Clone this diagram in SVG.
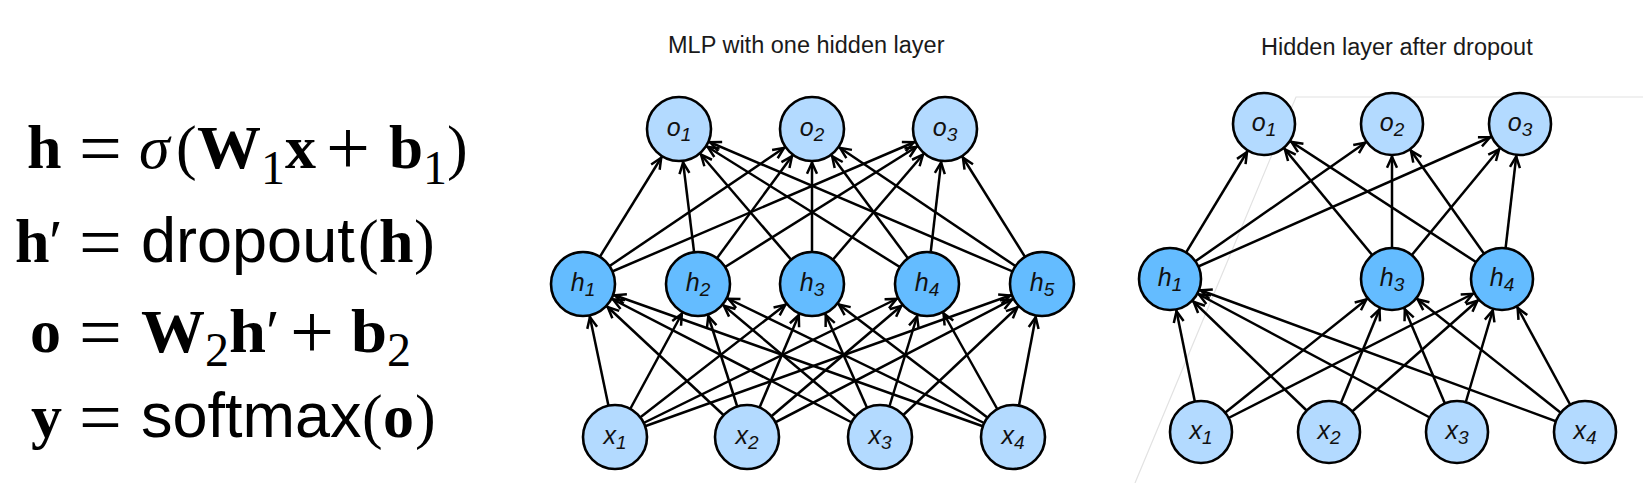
<svg xmlns="http://www.w3.org/2000/svg" width="1643" height="483" viewBox="0 0 1643 483">
<defs>
<style>
.eq text{font-family:"Liberation Sans",Arial,sans-serif;font-size:62px;fill:#000}
.eq .s{font-family:"Liberation Serif","Times New Roman",serif}
.eq .b{font-family:"Liberation Serif","Times New Roman",serif;font-weight:bold}
.eq .i{font-family:"Liberation Serif","Times New Roman",serif;font-style:italic}
.eq .sub{font-family:"Liberation Serif","Times New Roman",serif;font-size:48px}
.eq .op{font-family:"Liberation Serif","Times New Roman",serif;font-size:76px}
.eq .pl{font-family:"Liberation Serif","Times New Roman",serif;font-size:78px}
.eq .sans{font-size:63px}
.title{font-family:"Liberation Sans",Arial,sans-serif;font-size:23.5px;fill:#1a1a1a}
.e line{stroke:#000;stroke-width:2.5;fill:none}
#edgesL line{marker-end:url(#aL)}
#edgesR line{marker-end:url(#aR)}
.n circle{stroke:#000;stroke-width:2.6}
.lt circle{fill:#b3daff}
.md circle{fill:#64bcff}
.n text{font-family:"Liberation Sans",Arial,sans-serif;font-style:italic;font-size:25px;text-anchor:middle;fill:#111}
.n tspan{font-size:19px}
.guide{fill:none;stroke:#e2e2e2;stroke-width:1.2}
</style>
<marker id="aL" markerUnits="userSpaceOnUse" orient="auto" refX="33.8" refY="0" markerWidth="1" markerHeight="1" overflow="visible">
<path d="M-11,-5 L0,0 L-11,5" fill="none" stroke="#000" stroke-width="2.5"/>
</marker>
<marker id="aR" markerUnits="userSpaceOnUse" orient="auto" refX="32.8" refY="0" markerWidth="1" markerHeight="1" overflow="visible">
<path d="M-11,-5 L0,0 L-11,5" fill="none" stroke="#000" stroke-width="2.5"/>
</marker>
</defs>
<rect width="1643" height="483" fill="#fff"/>

<!-- equations -->
<g id="equations" class="eq">
<g id="eq1">
<text class="b" x="27" y="168">h</text>
<text class="op" x="79" y="174">=</text>
<text class="i" x="139" y="168">σ</text>
<text class="s" x="176" y="168">(</text>
<text class="b" x="197" y="168" textLength="64" lengthAdjust="spacingAndGlyphs">W</text>
<text class="sub" x="261" y="184">1</text>
<text class="b" x="285" y="168">x</text>
<text class="pl" x="326" y="174">+</text>
<text class="b" x="389" y="168" textLength="34" lengthAdjust="spacingAndGlyphs">b</text>
<text class="sub" x="423" y="184">1</text>
<text class="s" x="447" y="168">)</text>
</g>
<g id="eq2">
<text class="b" x="15" y="262">h</text>
<text class="s" x="49" y="262">′</text>
<text class="op" x="79" y="268">=</text>
<text class="sans" x="141" y="262">dropout</text>
<text class="s" x="358" y="262">(</text>
<text class="b" x="379" y="262">h</text>
<text class="s" x="414" y="262">)</text>
</g>
<g id="eq3">
<text class="b" x="30" y="352">o</text>
<text class="op" x="79" y="358">=</text>
<text class="b" x="141" y="352" textLength="64" lengthAdjust="spacingAndGlyphs">W</text>
<text class="sub" x="205" y="366">2</text>
<text class="b" x="229" y="352" textLength="37" lengthAdjust="spacingAndGlyphs">h</text>
<text class="s" x="266" y="352">′</text>
<text class="pl" x="290" y="358">+</text>
<text class="b" x="351" y="352" textLength="36" lengthAdjust="spacingAndGlyphs">b</text>
<text class="sub" x="387" y="366">2</text>
</g>
<g id="eq4">
<text class="b" x="31" y="437">y</text>
<text class="op" x="79" y="443">=</text>
<text class="sans" x="141" y="437">softmax</text>
<text class="s" x="362" y="437">(</text>
<text class="b" x="383" y="437">o</text>
<text class="s" x="415" y="437">)</text>
</g>
</g>

<!-- titles -->
<text class="title" x="668" y="53">MLP with one hidden layer</text>
<text class="title" x="1261" y="55">Hidden layer after dropout</text>

<polyline class="guide" points="1135,483 1296,97 1643,97"/>

<!-- connectors -->
<g id="edgesL" class="e">
<line x1="583" y1="284" x2="679" y2="129"/><line x1="583" y1="284" x2="812" y2="129"/><line x1="583" y1="284" x2="945" y2="129"/>
<line x1="698" y1="284" x2="679" y2="129"/><line x1="698" y1="284" x2="812" y2="129"/><line x1="698" y1="284" x2="945" y2="129"/>
<line x1="812" y1="284" x2="679" y2="129"/><line x1="812" y1="284" x2="812" y2="129"/><line x1="812" y1="284" x2="945" y2="129"/>
<line x1="927" y1="284" x2="679" y2="129"/><line x1="927" y1="284" x2="812" y2="129"/><line x1="927" y1="284" x2="945" y2="129"/>
<line x1="1042" y1="284" x2="679" y2="129"/><line x1="1042" y1="284" x2="812" y2="129"/><line x1="1042" y1="284" x2="945" y2="129"/>
<line x1="615" y1="437" x2="583" y2="284"/><line x1="615" y1="437" x2="698" y2="284"/><line x1="615" y1="437" x2="812" y2="284"/><line x1="615" y1="437" x2="927" y2="284"/><line x1="615" y1="437" x2="1042" y2="284"/>
<line x1="747" y1="437" x2="583" y2="284"/><line x1="747" y1="437" x2="698" y2="284"/><line x1="747" y1="437" x2="812" y2="284"/><line x1="747" y1="437" x2="927" y2="284"/><line x1="747" y1="437" x2="1042" y2="284"/>
<line x1="880" y1="437" x2="583" y2="284"/><line x1="880" y1="437" x2="698" y2="284"/><line x1="880" y1="437" x2="812" y2="284"/><line x1="880" y1="437" x2="927" y2="284"/><line x1="880" y1="437" x2="1042" y2="284"/>
<line x1="1013" y1="437" x2="583" y2="284"/><line x1="1013" y1="437" x2="698" y2="284"/><line x1="1013" y1="437" x2="812" y2="284"/><line x1="1013" y1="437" x2="927" y2="284"/><line x1="1013" y1="437" x2="1042" y2="284"/>
</g>
<g id="edgesR" class="e">
<line x1="1170" y1="279" x2="1264" y2="124"/><line x1="1170" y1="279" x2="1392" y2="124"/><line x1="1170" y1="279" x2="1520" y2="124"/>
<line x1="1392" y1="279" x2="1264" y2="124"/><line x1="1392" y1="279" x2="1392" y2="124"/><line x1="1392" y1="279" x2="1520" y2="124"/>
<line x1="1502" y1="279" x2="1264" y2="124"/><line x1="1502" y1="279" x2="1392" y2="124"/><line x1="1502" y1="279" x2="1520" y2="124"/>
<line x1="1201" y1="432" x2="1170" y2="279"/><line x1="1201" y1="432" x2="1392" y2="279"/><line x1="1201" y1="432" x2="1502" y2="279"/>
<line x1="1329" y1="432" x2="1170" y2="279"/><line x1="1329" y1="432" x2="1392" y2="279"/><line x1="1329" y1="432" x2="1502" y2="279"/>
<line x1="1457" y1="432" x2="1170" y2="279"/><line x1="1457" y1="432" x2="1392" y2="279"/><line x1="1457" y1="432" x2="1502" y2="279"/>
<line x1="1585" y1="432" x2="1170" y2="279"/><line x1="1585" y1="432" x2="1392" y2="279"/><line x1="1585" y1="432" x2="1502" y2="279"/>
</g>

<!-- left nodes -->
<g id="L-o1" class="n lt"><circle cx="679" cy="129" r="32"/><text x="679" y="136">o<tspan dy="5">1</tspan></text></g>
<g id="L-o2" class="n lt"><circle cx="812" cy="129" r="32"/><text x="812" y="136">o<tspan dy="5">2</tspan></text></g>
<g id="L-o3" class="n lt"><circle cx="945" cy="129" r="32"/><text x="945" y="136">o<tspan dy="5">3</tspan></text></g>
<g id="L-h1" class="n md"><circle cx="583" cy="284" r="32"/><text x="583" y="291">h<tspan dy="5">1</tspan></text></g>
<g id="L-h2" class="n md"><circle cx="698" cy="284" r="32"/><text x="698" y="291">h<tspan dy="5">2</tspan></text></g>
<g id="L-h3" class="n md"><circle cx="812" cy="284" r="32"/><text x="812" y="291">h<tspan dy="5">3</tspan></text></g>
<g id="L-h4" class="n md"><circle cx="927" cy="284" r="32"/><text x="927" y="291">h<tspan dy="5">4</tspan></text></g>
<g id="L-h5" class="n md"><circle cx="1042" cy="284" r="32"/><text x="1042" y="291">h<tspan dy="5">5</tspan></text></g>
<g id="L-x1" class="n lt"><circle cx="615" cy="437" r="32"/><text x="615" y="444">x<tspan dy="5">1</tspan></text></g>
<g id="L-x2" class="n lt"><circle cx="747" cy="437" r="32"/><text x="747" y="444">x<tspan dy="5">2</tspan></text></g>
<g id="L-x3" class="n lt"><circle cx="880" cy="437" r="32"/><text x="880" y="444">x<tspan dy="5">3</tspan></text></g>
<g id="L-x4" class="n lt"><circle cx="1013" cy="437" r="32"/><text x="1013" y="444">x<tspan dy="5">4</tspan></text></g>

<!-- right nodes -->
<g id="R-o1" class="n lt"><circle cx="1264" cy="124" r="31"/><text x="1264" y="131">o<tspan dy="5">1</tspan></text></g>
<g id="R-o2" class="n lt"><circle cx="1392" cy="124" r="31"/><text x="1392" y="131">o<tspan dy="5">2</tspan></text></g>
<g id="R-o3" class="n lt"><circle cx="1520" cy="124" r="31"/><text x="1520" y="131">o<tspan dy="5">3</tspan></text></g>
<g id="R-h1" class="n md"><circle cx="1170" cy="279" r="31"/><text x="1170" y="286">h<tspan dy="5">1</tspan></text></g>
<g id="R-h3" class="n md"><circle cx="1392" cy="279" r="31"/><text x="1392" y="286">h<tspan dy="5">3</tspan></text></g>
<g id="R-h4" class="n md"><circle cx="1502" cy="279" r="31"/><text x="1502" y="286">h<tspan dy="5">4</tspan></text></g>
<g id="R-x1" class="n lt"><circle cx="1201" cy="432" r="31"/><text x="1201" y="439">x<tspan dy="5">1</tspan></text></g>
<g id="R-x2" class="n lt"><circle cx="1329" cy="432" r="31"/><text x="1329" y="439">x<tspan dy="5">2</tspan></text></g>
<g id="R-x3" class="n lt"><circle cx="1457" cy="432" r="31"/><text x="1457" y="439">x<tspan dy="5">3</tspan></text></g>
<g id="R-x4" class="n lt"><circle cx="1585" cy="432" r="31"/><text x="1585" y="439">x<tspan dy="5">4</tspan></text></g>
</svg>
